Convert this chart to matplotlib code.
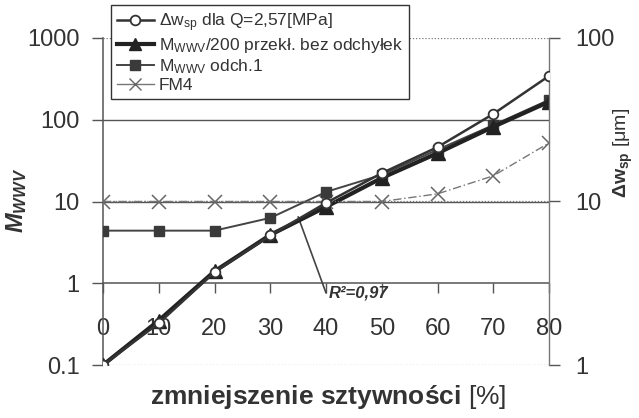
import matplotlib
matplotlib.use("Agg")
import matplotlib.pyplot as plt
from matplotlib.lines import Line2D

plt.rcParams['font.family'] = ['Liberation Sans', 'DejaVu Sans']
plt.rcParams['mathtext.fontset'] = 'custom'
plt.rcParams['mathtext.rm'] = 'Liberation Sans'
plt.rcParams['mathtext.it'] = 'Liberation Sans:italic'
plt.rcParams['mathtext.bf'] = 'Liberation Sans:bold'

# ---- data ----
x = [0, 10, 20, 30, 40, 50, 60, 70, 80]
dw_sp = [1.0, 1.8, 3.7, 6.2, 9.8, 14.9, 21.5, 34.3, 58.6]      # right axis [um]
m_bez = [0.1, 0.35, 1.4, 3.9, 8.6, 19.4, 39, 82, 166]           # left axis
m_odch = [4.4, 4.4, 4.4, 6.3, 13.1, 21.2, 43, 86, 175]          # left axis
fm4 = [10, 10, 10, 10, 10, 10, 12.4, 20.6, 52]                  # left axis

x_ticks = [0, 10, 20, 30, 40, 50, 60, 70, 80]
left_ticks = [0.1, 1, 10, 100, 1000]
left_tick_labels = ['0.1', '1', '10', '100', '1000']
right_ticks = [1, 10, 100]
right_tick_labels = ['1', '10', '100']

lbl_dw = r'$\Delta$w$_{\mathregular{sp}}$ dla Q=2,57[MPa]'
lbl_bez = r'M$_{\mathregular{WWV}}$/200 przekł. bez odchyłek'
lbl_odch = r'M$_{\mathregular{WWV}}$ odch.1'
lbl_fm4 = 'FM4'

W, H = 639, 418
fig = plt.figure(figsize=(W / 100, H / 100), dpi=100)
fig.patch.set_facecolor('white')
L, R, B, T = 103, 549, 365, 38
ax = fig.add_axes([L / W, 1 - B / H, (R - L) / W, (B - T) / H])
ax2 = ax.twinx()

axis_col = '#555555'
txt_col = '#333333'
tick_fs = 17

# left axis
ax.set_yscale('log')
ax.set_ylim(0.1, 1000)
ax.set_xlim(0, 80)
ax.set_yticks(left_ticks)
ax.set_yticklabels(left_tick_labels)
ax.yaxis.set_minor_locator(matplotlib.ticker.NullLocator())
ax.set_xticks(x_ticks)
ax.set_xticklabels([str(v) for v in x_ticks])
ax.tick_params(axis='y', direction='out', length=8, width=1, color=axis_col,
               labelsize=tick_fs, pad=9, labelcolor=txt_col)
ax.tick_params(axis='x', direction='out', length=7, width=1, color=axis_col,
               labelsize=tick_fs, pad=18, labelcolor=txt_col)
ax.spines['bottom'].set_position(('data', 1))
ax.spines['top'].set_visible(False)
ax.spines['right'].set_visible(False)
for s in ('left', 'bottom'):
    ax.spines[s].set_color(axis_col)
    ax.spines[s].set_linewidth(1.1)

for v in [10, 100]:
    ax.axhline(v, color='#555555', lw=1.0, zorder=1)

# right axis
ax2.set_yscale('log')
ax2.set_ylim(1, 100)
ax2.set_yticks(right_ticks)
ax2.set_yticklabels(right_tick_labels)
ax2.yaxis.set_minor_locator(matplotlib.ticker.NullLocator())
ax2.tick_params(axis='y', direction='out', length=8, width=1, color=axis_col,
                labelsize=tick_fs, pad=11, labelcolor=txt_col)
for s in ('left', 'bottom', 'top'):
    ax2.spines[s].set_visible(False)
ax2.spines['right'].set_color('#777777')
ax2.spines['right'].set_linewidth(1.0)
for v in right_ticks:
    ax2.axhline(v, color='#777777', lw=0.9, ls=(0, (1, 1.5)), zorder=1)

# series
ax.plot(x, fm4, color='#777777', lw=1.0, ls=(0, (6, 2, 1, 2)), marker='x',
        ms=10, mew=1.1, mec='#666666', zorder=3)
ax.plot(x, m_odch, color='#444444', lw=1.4, marker='s', ms=7.5,
        mfc='#3a3a3a', mec='#3a3a3a', zorder=4)
ax.plot(x, m_bez, color='#222222', lw=3.0, marker='^', ms=10,
        mfc='#222222', mec='#222222', zorder=5)
ax2.plot(x, dw_sp, color='#333333', lw=1.8, marker='o', ms=7,
         mfc='white', mec='#333333', mew=1.3, zorder=6)

# labels
ax.set_xlabel(r'$\mathbf{zmniejszenie\ sztywności}$ [%]', fontsize=19,
              color=txt_col)
ax.xaxis.set_label_coords(0.504, -0.055)
ax.set_ylabel(r'M$_{\mathregular{WWV}}$', fontsize=17, fontweight='bold',
              style='italic', color=txt_col)
ax.yaxis.set_label_coords(-0.165, 0.505)
ax2.set_ylabel(r'$\mathbf{\Delta w_{sp}}$ [μm]', fontsize=14, color=txt_col,
               rotation=90)
ax2.yaxis.set_label_coords(1.14, 0.648)

# R^2 annotation
ax.annotate('R²=0,97', xy=(35, 6.5), xytext=(40.5, 0.76),
            fontsize=12, fontweight='bold', style='italic', color=txt_col,
            ha='left', va='center',
            arrowprops=dict(arrowstyle='-', color='#444444', lw=1.2,
                            shrinkA=0, shrinkB=0, relpos=(0, 0)))

# legend
handles = [
    Line2D([], [], color='#333333', lw=1.8, marker='o', ms=7, mfc='white',
           mec='#333333', mew=1.3),
    Line2D([], [], color='#222222', lw=3.0, marker='^', ms=9, mfc='#222222',
           mec='#222222'),
    Line2D([], [], color='#444444', lw=1.4, marker='s', ms=7, mfc='#3a3a3a',
           mec='#3a3a3a'),
    Line2D([], [], color='#777777', lw=1.0, marker='x', ms=9, mec='#666666'),
]
leg = ax2.legend(handles, [lbl_dw, lbl_bez, lbl_odch, lbl_fm4],
                 loc='upper left', bbox_to_anchor=(111 / W, 1 - 5 / H),
                 bbox_transform=fig.transFigure, fontsize=12.5,
                 frameon=True, fancybox=False, framealpha=1,
                 edgecolor='#333333', handlelength=2.1, handletextpad=0.3,
                 labelspacing=0.12, borderpad=0.35, borderaxespad=0)
leg.get_frame().set_linewidth(1.0)
for t in leg.get_texts():
    t.set_color(txt_col)
leg.set_zorder(20)

fig.savefig('out.png', dpi=100, facecolor='white')
